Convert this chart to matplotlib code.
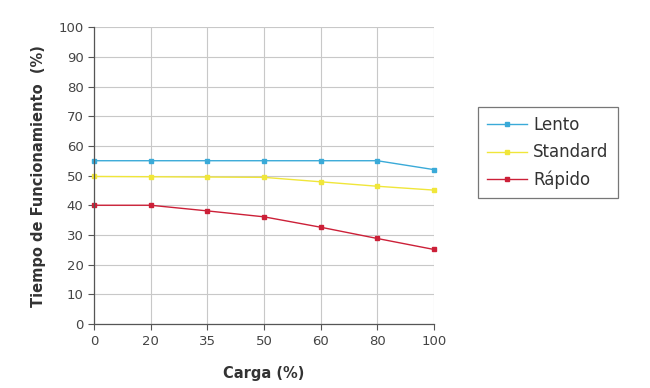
import numpy as np
import matplotlib
matplotlib.use('Agg')
import matplotlib.pyplot as plt

carga = ['0', '20', '35', '50', '60', '80', '100']
lento = [55, 55, 55, 55, 55, 55, 52]
standard = [49.7, 49.6, 49.5, 49.4, 47.9, 46.4, 45.1]
rapido = [40, 40, 38.1, 36.1, 32.6, 28.8, 25.1]

fig = plt.figure(figsize=(6.5, 3.88), dpi=100)
ax = fig.add_axes([0.1446, 0.165, 0.5231, 0.765])

x = np.arange(len(carga))
ax.plot(x, lento, '-s', color='#3aaad8', lw=1.0, ms=3.5, label='Lento', clip_on=False)
ax.plot(x, standard, '-s', color='#f0e63a', lw=1.0, ms=3.5, label='Standard', clip_on=False)
ax.plot(x, rapido, '-s', color='#cc2038', lw=1.0, ms=3.5, label='Rápido', clip_on=False)

ax.set_xlim(0, len(carga) - 1)
ax.set_ylim(0, 100)
ax.set_xticks(x)
ax.set_xticklabels(carga)
ax.set_yticks(np.arange(0, 101, 10))
ax.grid(True, color='#c8c8c8', lw=0.8)
ax.set_axisbelow(True)
for s in ['top', 'right']:
    ax.spines[s].set_visible(False)
for s in ['left', 'bottom']:
    ax.spines[s].set_color('#555555')
    ax.spines[s].set_linewidth(0.9)
ax.tick_params(axis='both', colors='#555555', labelcolor='#444444', labelsize=9.5, length=4, width=0.8)
ax.tick_params(axis='x', pad=4)

ax.set_xlabel('Carga (%)', fontsize=10.5, fontweight='bold', color='#333333', labelpad=13)
ax.set_ylabel('Tiempo de Funcionamiento  (%)', fontsize=10.5, fontweight='bold', color='#333333', labelpad=9)

leg = fig.legend(loc='upper left', bbox_to_anchor=(478 / 650, 1 - 107 / 388), fontsize=12,
                 frameon=True, fancybox=False, edgecolor='#555555', handlelength=2.4,
                 borderpad=0.55, labelspacing=0.55, handletextpad=0.35, borderaxespad=0)
leg.get_frame().set_linewidth(0.9)
for t in leg.get_texts():
    t.set_color('#333333')

fig.savefig('out.png', dpi=100)
